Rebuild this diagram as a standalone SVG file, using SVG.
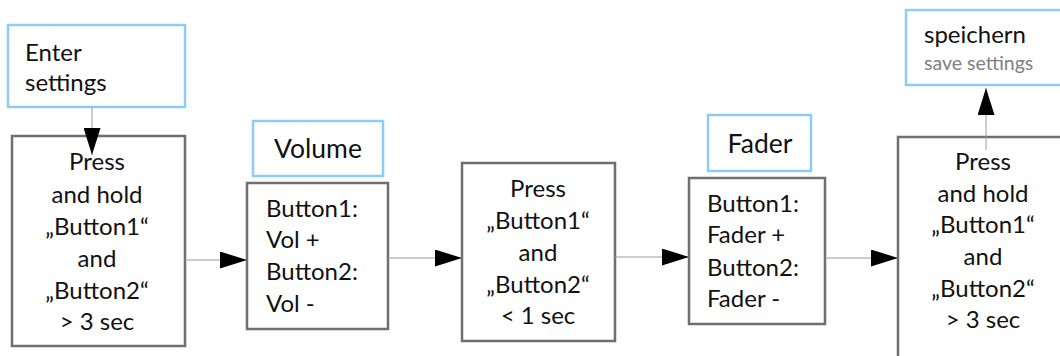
<svg xmlns="http://www.w3.org/2000/svg" width="1060" height="356" viewBox="0 0 1060 356">
  <defs>
    <marker id="head" markerUnits="userSpaceOnUse" markerWidth="28" markerHeight="17" viewBox="0 0 27 17" refX="27" refY="8.5" orient="auto">
      <path d="M0,0 L27,8.5 L0,17 Z" fill="#000"/>
    </marker>
    <style>
      .step { fill: #fff; stroke: #6f6f6f; stroke-width: 2.5; }
      .tag { fill: #fff; stroke: #8ecbf5; stroke-width: 2.5; }
      .link { fill: none; stroke: #9c9c9c; stroke-width: 1; marker-end: url(#head); }
      text { font-family: Lato, "Open Sans", "Liberation Sans", sans-serif; font-size: 24px; fill: #111; }
      .mid { text-anchor: middle; }
      .big { font-size: 26.5px; }
      .sub { font-size: 19.5px; fill: #808080; }
    </style>
  </defs>
  <rect width="1060" height="356" fill="#fff"/>

  <g id="enter-settings">
    <rect class="tag" x="8" y="25" width="177" height="82"/>
    <text x="25" y="61">Enter</text>
    <text x="25" y="91">settings</text>
  </g>

  <g id="hold-start">
    <rect class="step" x="12" y="136" width="173" height="210"/>
    <text class="mid" x="97" y="170">Press</text>
    <text class="mid" x="97" y="203">and hold</text>
    <text class="mid" x="97" y="235">„Button1“</text>
    <text class="mid" x="97" y="267">and</text>
    <text class="mid" x="97" y="299">„Button2“</text>
    <text class="mid" x="97" y="330">&gt; 3 sec</text>
  </g>

  <g id="volume-title">
    <rect class="tag" x="253" y="121" width="130" height="55"/>
    <text class="mid big" x="318" y="158">Volume</text>
  </g>

  <g id="volume">
    <rect class="step" x="247" y="183" width="141" height="146"/>
    <text x="266" y="217">Button1:</text>
    <text x="266" y="248">Vol +</text>
    <text x="266" y="280">Button2:</text>
    <text x="266" y="312">Vol -</text>
  </g>

  <g id="press-short">
    <rect class="step" x="462" y="163" width="153" height="178"/>
    <text class="mid" x="538" y="197">Press</text>
    <text class="mid" x="538" y="229">„Button1“</text>
    <text class="mid" x="538" y="261">and</text>
    <text class="mid" x="538" y="293">„Button2“</text>
    <text class="mid" x="538" y="324">&lt; 1 sec</text>
  </g>

  <g id="fader-title">
    <rect class="tag" x="708" y="115" width="103" height="56"/>
    <text class="mid big" x="760" y="153">Fader</text>
  </g>

  <g id="fader">
    <rect class="step" x="689" y="178" width="136" height="146"/>
    <text x="707" y="212">Button1:</text>
    <text x="707" y="243">Fader +</text>
    <text x="707" y="276">Button2:</text>
    <text x="707" y="307">Fader -</text>
  </g>

  <g id="hold-end">
    <rect class="step" x="898" y="137" width="180" height="230"/>
    <text class="mid" x="983" y="170">Press</text>
    <text class="mid" x="983" y="202">and hold</text>
    <text class="mid" x="983" y="233">„Button1“</text>
    <text class="mid" x="983" y="265">and</text>
    <text class="mid" x="983" y="297">„Button2“</text>
    <text class="mid" x="983" y="328">&gt; 3 sec</text>
  </g>

  <g id="save">
    <rect class="tag" x="906" y="10" width="170" height="75"/>
    <text x="924" y="43">speichern</text>
    <text class="sub" x="924" y="70">save settings</text>
  </g>

  <!-- connectors, drawn last so the heads sit over the box edges -->
  <g id="connectors">
    <line class="link" x1="92" y1="107" x2="92" y2="155"/>
    <line class="link" x1="185" y1="260" x2="247" y2="260"/>
    <line class="link" x1="388" y1="258" x2="462" y2="258"/>
    <line class="link" x1="615" y1="257" x2="689" y2="257"/>
    <line class="link" x1="825" y1="258" x2="898" y2="258"/>
    <line class="link" x1="986" y1="150" x2="986" y2="88"/>
  </g>
</svg>
